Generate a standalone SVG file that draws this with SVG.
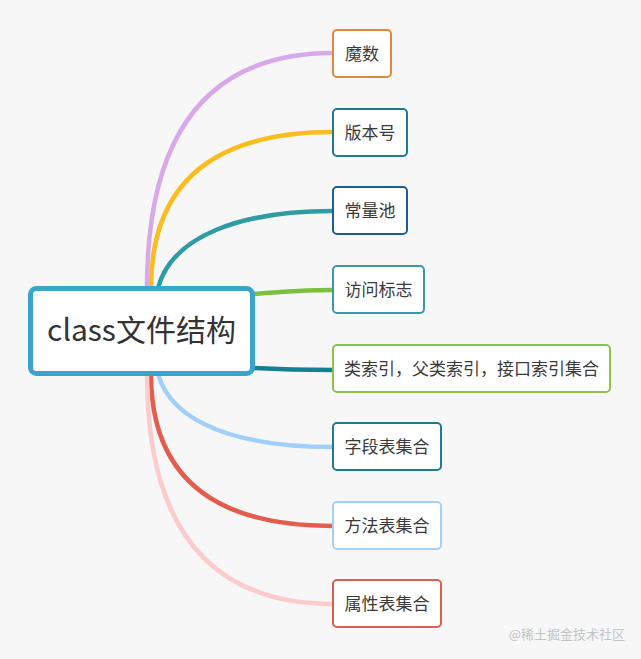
<svg xmlns="http://www.w3.org/2000/svg" width="641" height="659" viewBox="0 0 641 659">
<style>
.bg{fill:#f7f7f7}
.n rect{fill:#ffffff;stroke-width:2}
.n text{font-family:"Noto Sans CJK SC","Liberation Sans",sans-serif;font-size:17px;fill:#3a3a3a}
.c path{fill:none;stroke-width:4.5;stroke-linecap:round}
.wm{font-family:"Noto Sans CJK SC",sans-serif;font-size:13px;fill:#c4c4c4}
</style>
<rect class="bg" x="0" y="0" width="641" height="659"/>
<g id="connectors" class="c">
<path d="M147,288 Q147,53 333,53" stroke="#d8a9ea"/>
<path d="M151,288 Q151,132 333,132" stroke="#fbbd1e"/>
<path d="M158,288 C172,236 240,211 333,211" stroke="#2f9ca3"/>
<path d="M253,294 C290,291 310,290 333,290" stroke="#7cbf3f"/>
<path d="M253,368 C290,370 310,370 333,370" stroke="#177f92"/>
<path d="M158,374 C172,424 240,447 333,447" stroke="#a0cffb"/>
<path d="M151,374 Q151,526 333,526" stroke="#e25d4d"/>
<path d="M147,374 Q147,604 333,604" stroke="#fccbcb"/>
</g>
<g id="root">
<rect x="30.5" y="288.5" width="222" height="85" rx="6" fill="#ffffff" stroke="#3aa5cb" stroke-width="5"/>
<text x="141.5" y="341" text-anchor="middle" font-family="Noto Sans CJK SC,Liberation Sans,sans-serif" font-size="30" fill="#333333">class文件结构</text>
</g>
<g id="n1" class="n"><rect x="333" y="30" width="58" height="47" rx="4" stroke="#e0893c"/><text x="362" y="59.5" text-anchor="middle">魔数</text></g>
<g id="n2" class="n"><rect x="333" y="109" width="74" height="47" rx="4" stroke="#1e7a8e"/><text x="370" y="138.5" text-anchor="middle">版本号</text></g>
<g id="n3" class="n"><rect x="333" y="187" width="74" height="47" rx="4" stroke="#1a5e97"/><text x="370" y="216.5" text-anchor="middle">常量池</text></g>
<g id="n4" class="n"><rect x="333" y="266" width="91" height="47" rx="4" stroke="#3b98a8"/><text x="378.5" y="295.5" text-anchor="middle">访问标志</text></g>
<g id="n5" class="n"><rect x="333" y="345" width="277" height="47" rx="4" stroke="#8bc34a"/><text x="471.5" y="374.5" text-anchor="middle">类索引，父类索引，接口索引集合</text></g>
<g id="n6" class="n"><rect x="333" y="423" width="108" height="47" rx="4" stroke="#1e7a8e"/><text x="387" y="452.5" text-anchor="middle">字段表集合</text></g>
<g id="n7" class="n"><rect x="333" y="502" width="108" height="47" rx="4" stroke="#a8d0f3"/><text x="387" y="531.5" text-anchor="middle">方法表集合</text></g>
<g id="n8" class="n"><rect x="333" y="580" width="108" height="47" rx="4" stroke="#d9604f"/><text x="387" y="609.5" text-anchor="middle">属性表集合</text></g>
<text class="wm" x="625" y="639" text-anchor="end">@稀土掘金技术社区</text>
</svg>
